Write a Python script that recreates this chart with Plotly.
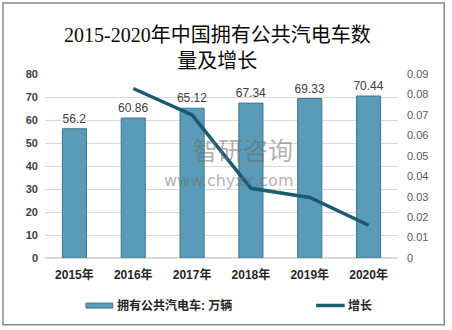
import plotly.graph_objects as go

# Public buses and trams in China, 2015-2020
years = ["2015年", "2016年", "2017年", "2018年", "2019年", "2020年"]
buses = [56.2, 60.86, 65.12, 67.34, 69.33, 70.44]          # 万辆
growth_years = ["2016年", "2017年", "2018年", "2019年", "2020年"]
growth = [0.0829, 0.0700, 0.0341, 0.0296, 0.0160]

left_ticks = [0, 10, 20, 30, 40, 50, 60, 70, 80]
right_ticks = [0, 0.01, 0.02, 0.03, 0.04, 0.05, 0.06, 0.07, 0.08, 0.09]
right_tick_text = ["0", "0.01", "0.02", "0.03", "0.04", "0.05", "0.06", "0.07", "0.08", "0.09"]

bar_name = "拥有公共汽电车: 万辆"
line_name = "增长"
title_text = "2015-2020年中国拥有公共汽电车数<br>量及增长"

BAR_COLOR = "#5a9bb9"
BAR_EDGE = "#44758c"
LINE_COLOR = "#1c5a70"
SANS = "Arial, 'Liberation Sans', 'Noto Sans CJK SC', sans-serif"
SERIF = "'Liberation Serif', 'Noto Sans CJK SC', serif"

fig = go.Figure()

fig.add_trace(go.Bar(
    x=years, y=buses, name=bar_name,
    width=0.41,
    marker=dict(color=BAR_COLOR, line=dict(color=BAR_EDGE, width=1)),
    text=[f"{v:g}" for v in buses], textposition="outside",
    textfont=dict(family=SANS, size=12, color="#404040"),
    constraintext="none",
    cliponaxis=False,
))

fig.add_trace(go.Scatter(
    x=growth_years, y=growth, name=line_name, yaxis="y2",
    mode="lines", line=dict(color=LINE_COLOR, width=3.5),
))

fig.update_layout(
    width=452, height=330,
    margin=dict(l=45, r=54, t=74, b=72),
    paper_bgcolor="white", plot_bgcolor="white",
    showlegend=False,
    bargap=0.59,
    xaxis=dict(
        type="category", showgrid=False, showline=False, ticks="",
        ticklabelstandoff=8,
        tickfont=dict(family=SANS, size=12, color="#262626", weight="bold"),
    ),
    yaxis=dict(
        range=[0, 80], tickvals=left_ticks, showline=False, ticks="",
        ticklabelstandoff=6,
        gridcolor="#d9d9d9", gridwidth=1, zeroline=True, zerolinecolor="#d9d9d9",
        tickfont=dict(family=SANS, size=11, color="#404040", weight="bold"),
    ),
    yaxis2=dict(
        overlaying="y", side="right", range=[0, 0.09],
        tickvals=right_ticks, ticktext=right_tick_text,
        ticklabelstandoff=8,
        showgrid=False, zeroline=False, showline=False, ticks="",
        tickfont=dict(family=SANS, size=11, color="#595959"),
    ),
)

# Two-line chart title
fig.add_annotation(text=title_text, xref="paper", yref="paper",
                   x=0.49, y=1.285, xanchor="center", yanchor="top", showarrow=False,
                   align="center",
                   font=dict(family=SERIF, size=20, color="#0a0a0a"))

# Outer frame
fig.add_shape(type="rect", xref="paper", yref="paper",
              x0=-0.119, x1=1.131, y0=-0.363, y1=1.386,
              line=dict(color="#888888", width=1.5), fillcolor="rgba(0,0,0,0)")

# Legend drawn below the axis
fig.add_shape(type="rect", xref="paper", yref="paper",
              x0=0.116, x1=0.192, y0=-0.272, y1=-0.245,
              fillcolor=BAR_COLOR, line=dict(color=BAR_EDGE, width=1))
fig.add_annotation(text=f"<b>{bar_name}</b>", xref="paper", yref="paper",
                   x=0.198, y=-0.258, xanchor="left", yanchor="middle", showarrow=False,
                   font=dict(family=SANS, size=12, color="#262626"))
fig.add_shape(type="line", xref="paper", yref="paper",
              x0=0.768, x1=0.849, y0=-0.258, y1=-0.258,
              line=dict(color=LINE_COLOR, width=3.5))
fig.add_annotation(text=f"<b>{line_name}</b>", xref="paper", yref="paper",
                   x=0.852, y=-0.258, xanchor="left", yanchor="middle", showarrow=False,
                   font=dict(family=SANS, size=12, color="#262626"))

# Faint publisher watermark
fig.add_annotation(text="智研咨询", xref="paper", yref="paper",
                   x=0.708, y=0.59, xanchor="right", yanchor="middle", showarrow=False,
                   font=dict(family="'Noto Sans CJK SC', sans-serif", size=25, color="rgba(110,110,110,0.55)"))
fig.add_annotation(text="www.chyxx.com", xref="paper", yref="paper",
                   x=0.708, y=0.42, xanchor="right", yanchor="middle", showarrow=False,
                   font=dict(family="'DejaVu Sans', sans-serif", size=16, color="rgba(110,110,110,0.55)"))

fig.write_html("out.html")
